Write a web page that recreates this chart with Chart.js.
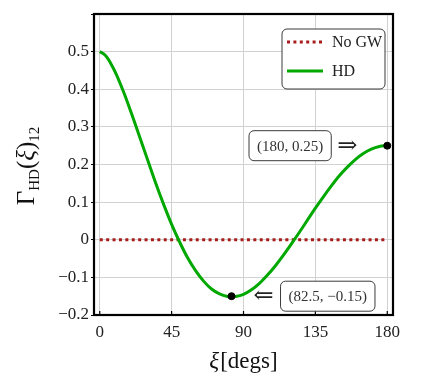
<!DOCTYPE html>
<html>
<head>
<meta charset="utf-8">
<script src="https://cdn.jsdelivr.net/npm/chart.js@4.4.1/dist/chart.umd.min.js"></script>
<style>
  html, body { margin: 0; padding: 0; background: #fff; }
  #wrap { width: 429px; height: 382px; position: relative; }
</style>
</head>
<body>
<div id="wrap"><canvas id="hdChart" width="429" height="382"></canvas></div>
<script>
// ---------- Data ----------
const XI_DEG = [0, 2.5, 5, 7.5, 10, 15, 20, 25, 30, 35, 40, 45, 50, 55, 60, 65, 70, 75, 80, 82.5, 85,
                90, 95, 100, 105, 110, 115, 120, 125, 130, 135, 140, 145, 150, 155, 160, 165, 170, 175, 180];
const HD_VALS = [0.500, 0.494, 0.482, 0.464, 0.443, 0.392, 0.334, 0.273, 0.212, 0.151, 0.094, 0.041, -0.006,
                 -0.048, -0.082, -0.110, -0.131, -0.144, -0.151, -0.152, -0.151,
                 -0.145, -0.133, -0.116, -0.094, -0.069, -0.041, -0.011, 0.020, 0.052, 0.084, 0.114, 0.143,
                 0.170, 0.193, 0.213, 0.229, 0.241, 0.248, 0.250];
const NOGW_X = [0, 180];
const NOGW_Y = [0, 0];
const MARK_X = [82.5, 180];
const MARK_Y = [-0.15, 0.25];
const MARK_TEXT = ['(82.5, \u22120.15)', '(180, 0.25)'];
const X_TICKS = [0, 45, 90, 135, 180];

const SERIF = "'Liberation Serif', 'DejaVu Serif', serif";
const RED = '#a81c1c';
const GREEN = '#00a800';

const pts = (xs, ys) => xs.map((x, i) => ({ x, y: ys[i] }));
const fmtTick = v => {
  const r = Math.round(v * 10) / 10;
  if (r === 0) return '0';
  return (r < 0 ? '\u2212' : '') + Math.abs(r).toFixed(1);
};

function roundBox(ctx, x, y, w, h, r) {
  ctx.beginPath();
  ctx.moveTo(x + r, y);
  ctx.arcTo(x + w, y, x + w, y + h, r);
  ctx.arcTo(x + w, y + h, x, y + h, r);
  ctx.arcTo(x, y + h, x, y, r);
  ctx.arcTo(x, y, x + w, y, r);
  ctx.closePath();
  ctx.fillStyle = '#fff';
  ctx.fill();
  ctx.strokeStyle = '#3a3a3a';
  ctx.lineWidth = 1;
  ctx.stroke();
}

// ---------- Extra drawing: frame, titles, legend, annotations ----------
const decor = {
  id: 'decor',
  afterDatasetsDraw(chart) {
    const { ctx, chartArea: a, scales } = chart;
    ctx.save();

    // inward x ticks
    ctx.strokeStyle = '#000';
    ctx.lineWidth = 1.2;
    X_TICKS.forEach(v => {
      const px = scales.x.getPixelForValue(v);
      ctx.beginPath();
      ctx.moveTo(px, a.bottom);
      ctx.lineTo(px, a.bottom - 4);
      ctx.stroke();
    });

    // frame
    ctx.lineWidth = 2.2;
    ctx.strokeRect(a.left, a.top, a.right - a.left, a.bottom - a.top);

    // legend
    roundBox(ctx, 282, 29, 103, 60, 5);
    ctx.lineWidth = 3;
    ctx.strokeStyle = RED;
    ctx.setLineDash([3, 3.4]);
    ctx.beginPath(); ctx.moveTo(287, 42); ctx.lineTo(323, 42); ctx.stroke();
    ctx.setLineDash([]);
    ctx.strokeStyle = GREEN;
    ctx.beginPath(); ctx.moveTo(287, 71); ctx.lineTo(323, 71); ctx.stroke();
    ctx.fillStyle = '#222';
    ctx.font = '16px ' + SERIF;
    ctx.textBaseline = 'middle';
    ctx.textAlign = 'left';
    ctx.fillText('No GW', 332, 43);
    ctx.fillText('HD', 332, 72);

    // annotations
    ctx.font = '15px ' + SERIF;
    MARK_X.forEach((mx, i) => {
      const px = scales.x.getPixelForValue(mx);
      const py = scales.y.getPixelForValue(MARK_Y[i]);
      const txt = MARK_TEXT[i];
      const tw = ctx.measureText(txt).width;
      const bw = tw + 16, bh = 30;
      let bx, ax;
      if (i === 1) { bx = px - 56 - bw; ax = px - 40; }
      else { bx = px + 49; ax = px + 32; }
      roundBox(ctx, bx, py - bh / 2, bw, bh, 5);
      ctx.fillStyle = '#333';
      ctx.textAlign = 'center';
      ctx.fillText(txt, bx + bw / 2, py + 1);
      ctx.font = '24px ' + "'DejaVu Serif', serif";
      ctx.fillStyle = '#222';
      ctx.fillText(i === 1 ? '\u21D2' : '\u21D0', ax, py + 1);
      ctx.font = '15px ' + SERIF;
    });

    // x title
    ctx.fillStyle = '#111';
    ctx.textBaseline = 'alphabetic';
    ctx.font = 'italic 23px ' + SERIF;
    const xiW = ctx.measureText('\u03BE').width;
    ctx.font = '23px ' + SERIF;
    const dW = ctx.measureText('[degs]').width;
    let sx = 243 - (xiW + dW) / 2;
    ctx.textAlign = 'left';
    ctx.font = 'italic 23px ' + SERIF;
    ctx.fillText('\u03BE', sx, 368);
    ctx.font = '23px ' + SERIF;
    ctx.fillText('[degs]', sx + xiW + 1, 368);

    // y title: Gamma_HD(xi)_12, rotated
    ctx.translate(34, 166);
    ctx.rotate(-Math.PI / 2);
    const parts = [
      { t: '\u0393', f: '25px ' + SERIF, dy: 0 },
      { t: 'HD', f: '15px ' + SERIF, dy: 5 },
      { t: '(', f: '25px ' + SERIF, dy: 0 },
      { t: '\u03BE', f: 'italic 25px ' + SERIF, dy: 0 },
      { t: ')', f: '25px ' + SERIF, dy: 0 },
      { t: '12', f: '15px ' + SERIF, dy: 5 }
    ];
    let total = 0;
    parts.forEach(p => { ctx.font = p.f; p.w = ctx.measureText(p.t).width; total += p.w; });
    let cx = -total / 2;
    parts.forEach(p => { ctx.font = p.f; ctx.fillText(p.t, cx, p.dy); cx += p.w; });

    ctx.restore();
  }
};

Chart.defaults.font.family = SERIF;
Chart.defaults.color = '#222';

const chart = new Chart(document.getElementById('hdChart').getContext('2d'), {
  type: 'line',
  data: {
    datasets: [
      { label: 'markers', data: pts(MARK_X, MARK_Y), showLine: false, pointRadius: 3.5,
        pointBackgroundColor: '#000', pointBorderColor: '#000', clip: false },
      { label: 'HD', data: pts(XI_DEG, HD_VALS), borderColor: GREEN, borderWidth: 3,
        pointRadius: 0, cubicInterpolationMode: 'monotone', fill: false },
      { label: 'No GW', data: pts(NOGW_X, NOGW_Y), borderColor: RED, borderWidth: 3,
        borderDash: [3, 3.4], pointRadius: 0, fill: false }
    ]
  },
  options: {
    responsive: false,
    animation: false,
    devicePixelRatio: 1,
    layout: { padding: { top: 14, right: 36, left: 0, bottom: 0 } },
    plugins: { legend: { display: false }, tooltip: { enabled: false } },
    scales: {
      x: {
        type: 'linear', min: -3.6, max: 183.6,
        afterFit: s => { s.height = 67; },
        afterBuildTicks: s => { s.ticks = X_TICKS.map(v => ({ value: v })); },
        grid: { color: '#d2d2d2', lineWidth: 1, drawTicks: false },
        border: { display: false },
        ticks: { font: { size: 17 }, color: '#222', padding: 7, maxRotation: 0,
                 callback: v => String(v) }
      },
      y: {
        min: -0.2, max: 0.6,
        afterFit: s => { s.width = 94; },
        grid: { color: '#d2d2d2', lineWidth: 1, tickColor: '#000', tickLength: 3 },
        border: { display: false },
        ticks: { stepSize: 0.1, font: { size: 17 }, color: '#222', padding: 2,
                 callback: v => (Math.abs(v - 0.6) < 1e-6 ? '' : fmtTick(v)) }
      }
    }
  },
  plugins: [decor]
});
</script>
</body>
</html>
